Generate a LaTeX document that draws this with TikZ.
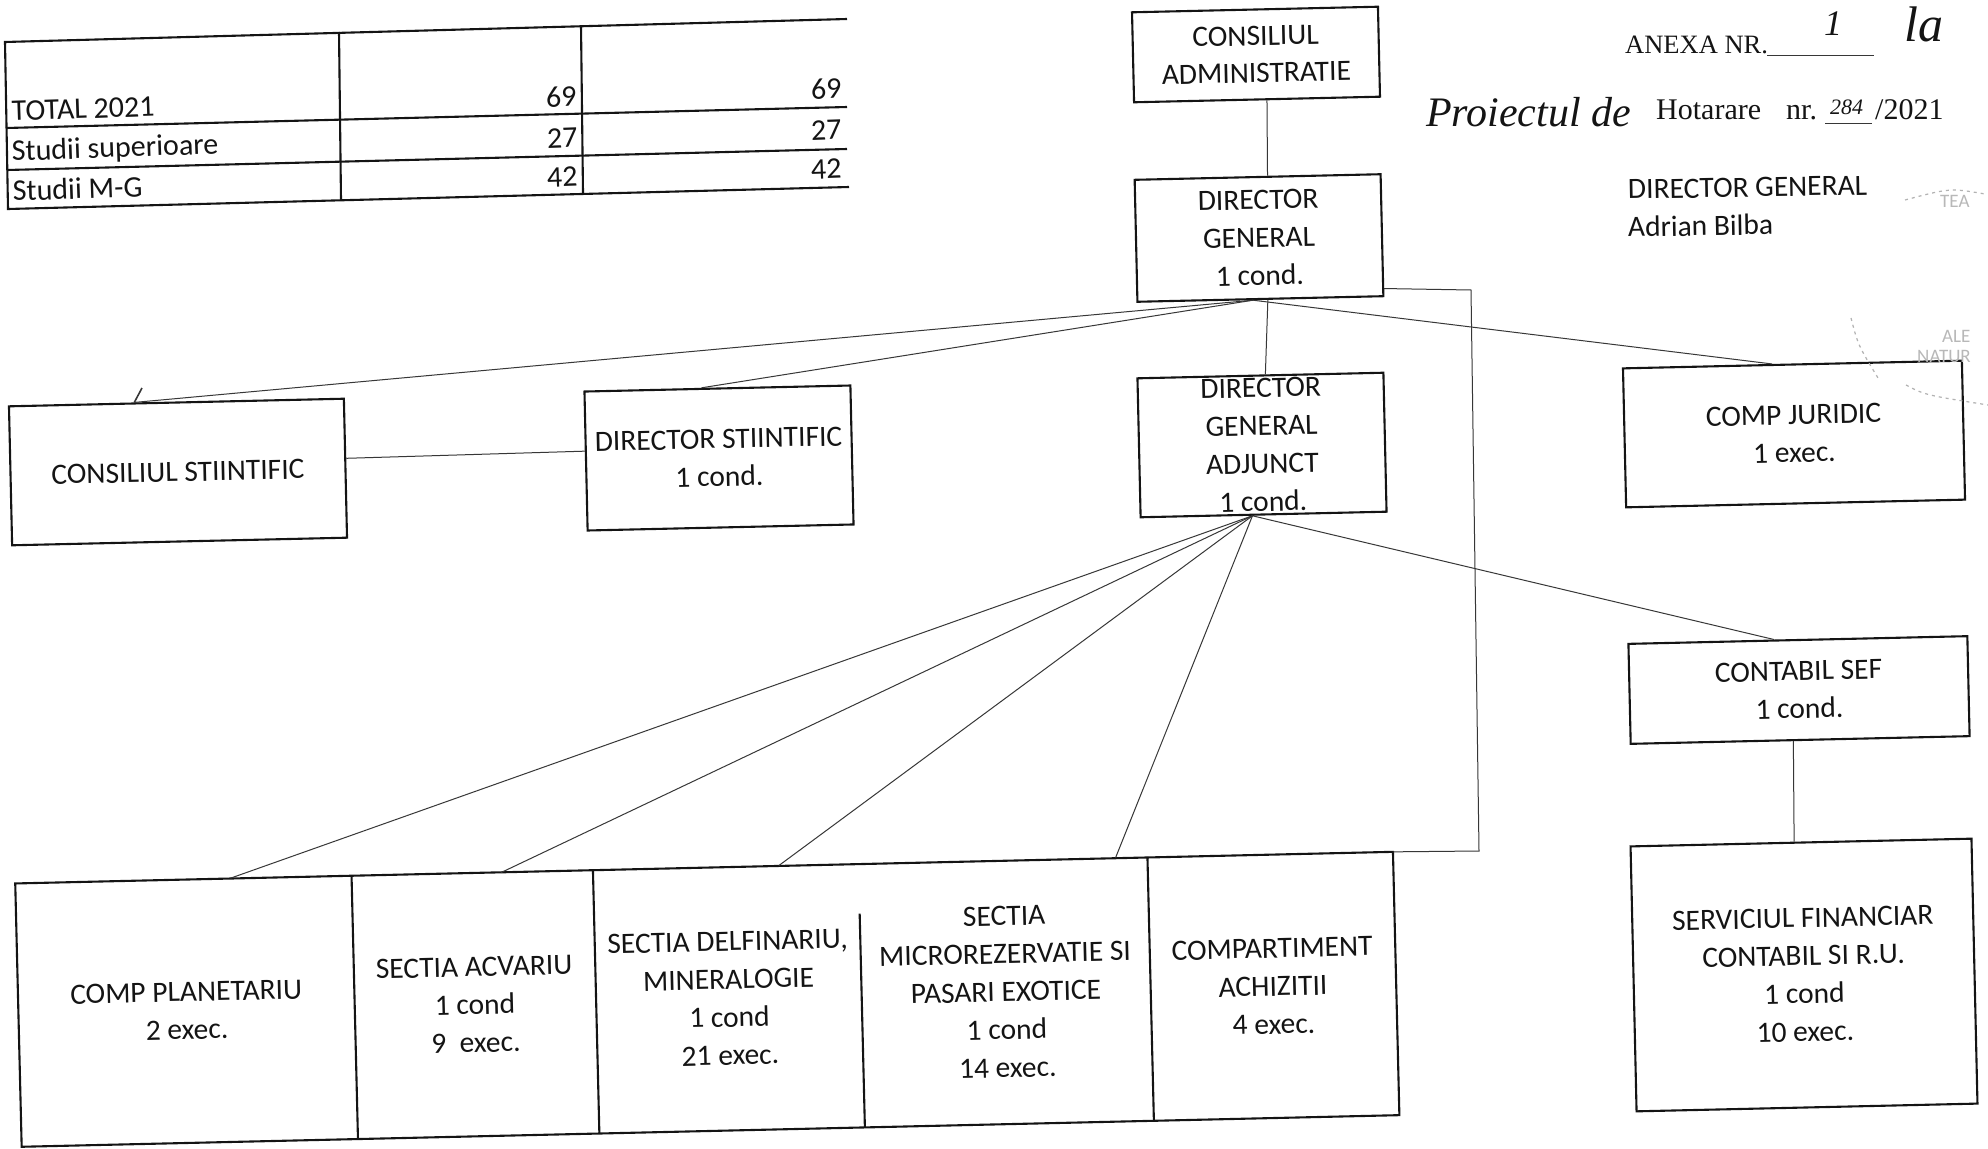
\documentclass[tikz,border=0pt]{standalone}
\usepackage{fontspec}
\setmainfont{Carlito}
\newfontfamily\serifface{Liberation Serif}
\usetikzlibrary{calc}
\definecolor{ink}{HTML}{141414}
\tikzset{
  boxnode/.style={draw=ink,line width=2.1pt,rotate=1.3,align=center,text=ink,inner sep=0pt,font=\fontsize{29.5}{38}\selectfont},
  cellnode/.style={rotate=1.4,align=center,text=ink,inner sep=0pt,minimum height=263pt,font=\fontsize{29.5}{38}\selectfont},
  cellline/.style={draw=ink,line width=2.1pt},
  linkline/.style={draw=ink!85,line width=1pt},
  tabline/.style={draw=ink,line width=2.1pt},
  tabtext/.style={rotate=2,text=ink,inner sep=0pt,font=\fontsize{30}{34}\selectfont},
  plaintext/.style={rotate=1,text=ink,inner sep=0pt,anchor=base west,font=\fontsize{29.5}{34}\selectfont},
  serifnote/.style={text=ink,inner sep=0pt,anchor=base west,font=\serifface\fontsize{26.5}{30}\selectfont},
  handnote/.style={text=ink,inner sep=0pt,anchor=base west,font=\serifface\itshape\fontsize{42}{46}\selectfont},
  stampnote/.style={text=black!28,inner sep=0pt,anchor=base west,font=\fontsize{19}{20}\selectfont},
  stampmark/.style={draw=black!30,line width=1.2pt,dash pattern=on 3pt off 4pt},
}
\begin{document}
\begin{tikzpicture}[x=1pt,y=-1pt]
\useasboundingbox[fill=white] (0,0) rectangle (1988,1148);
\clip (0,0) rectangle (1988,1148);

% --- table, top left
\coordinate (tnw) at (5,42); \coordinate (tne) at (847,19);
\coordinate (r1w) at (6,128); \coordinate (r1e) at (847,107);
\coordinate (r2w) at (7,170); \coordinate (r2e) at (847,149);
\coordinate (tsw) at (8,209); \coordinate (tse) at (849,187);
\coordinate (v1n) at (339,32); \coordinate (v1s) at (341,200);
\coordinate (v2n) at (581,26); \coordinate (v2s) at (583,193);
\draw[tabline] (tne) -- (tnw) -- (tsw) -- (tse);
\draw[tabline] (r1w) -- (r1e);
\draw[tabline] (r2w) -- (r2e);
\draw[tabline] (v1n) -- (v1s);
\draw[tabline] (v2n) -- (v2s);
\node[tabtext,anchor=base west] (t1) at (12,121) {TOTAL 2021};
\node[tabtext,anchor=base west] (t2) at (12,161) {Studii superioare};
\node[tabtext,anchor=base west] (t3) at (13,201) {Studii M-G};
\node[tabtext,anchor=base east] (a1) at (577,106) {69};
\node[tabtext,anchor=base east] (a2) at (578,147) {27};
\node[tabtext,anchor=base east] (a3) at (578,186) {42};
\node[tabtext,anchor=base east] (b1) at (842,98) {69};
\node[tabtext,anchor=base east] (b2) at (842,139) {27};
\node[tabtext,anchor=base east] (b3) at (842,178) {42};

% --- boxes
\node[boxnode,minimum width=246pt,minimum height=90pt] (ca) at (1256,54.5) {CONSILIUL\\[-1pt]ADMINISTRATIE};
\node[boxnode,minimum width=246pt,minimum height=122pt] (dg) at (1259,238) {DIRECTOR\\GENERAL\\1 cond.};
\node[boxnode,minimum width=246pt,minimum height=139pt] (dga) at (1262,445) {DIRECTOR\\GENERAL\\ADJUNCT\\1 cond.};
\node[boxnode,minimum width=335pt,minimum height=139pt] (cs) at (178,472) {CONSILIUL STIINTIFIC};
\node[boxnode,minimum width=266pt,minimum height=139pt] (ds) at (719,458) {DIRECTOR STIINTIFIC\\1 cond.};
\node[boxnode,minimum width=339pt,minimum height=139pt] (cj) at (1794,434) {COMP JURIDIC\\1 exec.};
\node[boxnode,minimum width=339pt,minimum height=100pt] (cf) at (1799,690) {CONTABIL SEF\\1 cond.};
\node[boxnode,minimum width=341pt,minimum height=265pt] (sf) at (1804,975) {SERVICIUL FINANCIAR\\CONTABIL SI R.U.\\1 cond\\10 exec.};

% --- bottom row
\node[cellnode,minimum width=336pt] (p1) at (186.6,1011) {COMP PLANETARIU\\2 exec.};
\node[cellnode,minimum width=242pt] (p2) at (475,1005) {SECTIA ACVARIU\\1 cond\\9\ \ exec.};
\node[cellnode,minimum width=265pt] (p3) at (729,998.5) {SECTIA DELFINARIU,\\MINERALOGIE\\1 cond\\21 exec.};
\node[cellnode,minimum width=289pt] (p4) at (1006,992) {SECTIA\\MICROREZERVATIE SI\\PASARI EXOTICE\\1 cond\\14 exec.};
\node[cellnode,minimum width=246pt] (p5) at (1273,986.5) {COMPARTIMENT\\ACHIZITII\\4 exec.};
\draw[cellline] (p5.north east) -- (p1.north west) -- (p1.south west) -- (p5.south east) -- cycle;
\draw[cellline] (p1.north east) -- (p1.south east);
\draw[cellline] (p2.north east) -- (p2.south east);
\draw[cellline] ($(p3.north east)!.19!(p3.south east)$) -- (p3.south east);
\draw[cellline] (p4.north east) -- (p4.south east);

% --- connectors
\coordinate (dgfoot) at ($(dg.south west)!.47!(dg.south east)$);
\coordinate (dgafoot) at ($(dga.south west)!.455!(dga.south east)$);
\coordinate (csend) at ($(cs.north west)!.375!(cs.north east)$);
\coordinate (cstick) at (142,388);
\draw[linkline] ($(ca.south west)!.54!(ca.south east)$) -- ($(dg.north west)!.54!(dg.north east)$);
\draw[linkline] ($(dg.south west)!.53!(dg.south east)$) -- ($(dga.north west)!.52!(dga.north east)$);
\draw[linkline] (dgfoot) -- (csend);
\draw[linkline,line width=1.6pt] (csend) -- (cstick);
\draw[linkline] (dgfoot) -- ($(ds.north west)!.44!(ds.north east)$);
\draw[linkline] (dgfoot) -- ($(cj.north west)!.44!(cj.north east)$);
\draw[linkline] ($(cs.north east)!.43!(cs.south east)$) -- ($(ds.north west)!.43!(ds.south west)$);
\draw[linkline] (dgafoot) -- ($(p1.north west)!.64!(p1.north east)$);
\draw[linkline] (dgafoot) -- ($(p2.north west)!.62!(p2.north east)$);
\draw[linkline] (dgafoot) -- ($(p3.north west)!.70!(p3.north east)$);
\draw[linkline] (dgafoot) -- ($(p4.north west)!.89!(p4.north east)$);
\draw[linkline] (dgafoot) -- ($(cf.north west)!.43!(cf.north east)$);
\draw[linkline] ($(cf.south west)!.48!(cf.south east)$) -- ($(sf.north west)!.48!(sf.north east)$);
\coordinate (brk) at (1471,290);
\coordinate (brl) at (1479,851);
\draw[linkline] ($(dg.north east)!.93!(dg.south east)$) -- (brk) -- (brl) -- (p5.north east);

% --- notes, top right
\node[serifnote] (an) at (1625,53) {ANEXA NR.};
\coordinate (anu1) at (1767,56); \coordinate (anu2) at (1874,56);
\draw[linkline] (anu1) -- (anu2);
\node[handnote,font=\serifface\itshape\fontsize{36}{40}\selectfont] (h1) at (1824,36) {1};
\node[handnote,font=\serifface\itshape\fontsize{50}{54}\selectfont] (h2) at (1904,42) {la};
\node[handnote,font=\serifface\itshape\fontsize{42}{46}\selectfont] (h3) at (1426,126) {Proiectul de};
\node[serifnote,font=\serifface\fontsize{30}{32}\selectfont] (ho) at (1656,119) {Hotarare};
\node[serifnote,font=\serifface\fontsize{30}{32}\selectfont] (nr) at (1786,119) {nr.};
\node[handnote,font=\serifface\itshape\fontsize{22}{24}\selectfont] (h4) at (1830,114) {284};
\coordinate (nru1) at (1825,123); \coordinate (nru2) at (1872,123);
\draw[linkline] (nru1) -- (nru2);
\node[serifnote,font=\serifface\fontsize{30}{32}\selectfont] (ye) at (1875,119) {/2021};
\node[plaintext] (gd) at (1628,199) {DIRECTOR GENERAL};
\node[plaintext] (ab) at (1628,237) {Adrian Bilba};

% --- stamp traces
\node[stampnote] (st1) at (1942,342) {ALE};
\node[stampnote] (st2) at (1917,362) {NATUR};
\node[stampnote] (st6) at (1940,207) {TEA};
\coordinate (sa1) at (1851,318); \coordinate (sa2) at (1858,345); \coordinate (sa3) at (1878,378);
\draw[stampmark] (sa1) .. controls (sa2) .. (sa3);
\coordinate (sb1) at (1906,385); \coordinate (sb2) at (1925,395); \coordinate (sb3) at (1988,405);
\draw[stampmark] (sb1) .. controls (sb2) .. (sb3);
\coordinate (sc1) at (1905,200); \coordinate (sc2) at (1950,188); \coordinate (sc3) at (1985,194);
\draw[stampmark] (sc1) .. controls (sc2) .. (sc3);
\end{tikzpicture}
\end{document}
